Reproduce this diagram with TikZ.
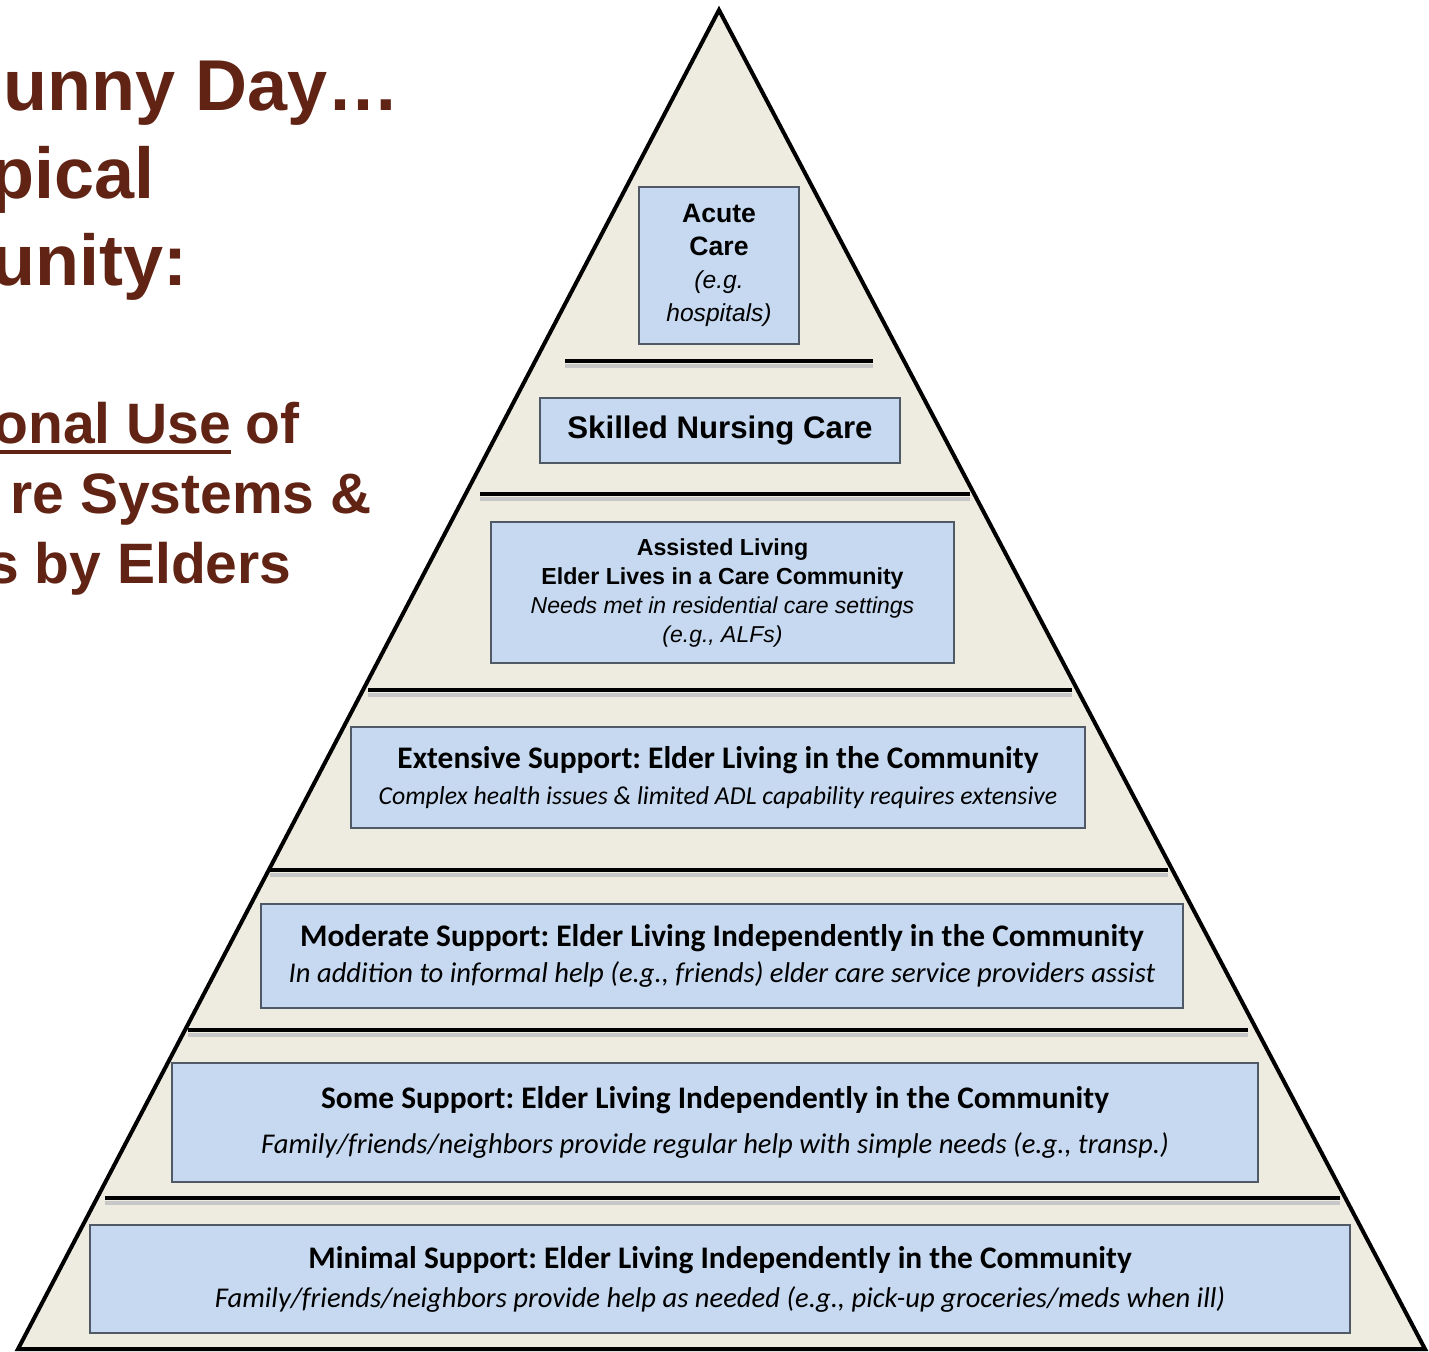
\documentclass[tikz,border=0pt]{standalone}
\usepackage{fontspec}
\setmainfont{Liberation Sans}
\newfontfamily\calibri{Carlito}
\usepackage{xcolor}
\definecolor{colorTitle}{RGB}{96,35,20}
\definecolor{colorPyramid}{RGB}{238,235,224}
\definecolor{colorTier}{RGB}{198,217,240}
\definecolor{colorTierEdge}{RGB}{80,90,102}
\usetikzlibrary{positioning}
\frenchspacing
\newcommand{\tierHead}{\bfseries\fontsize{15.7}{18}\selectfont}
\newcommand{\tierNote}{\itshape\fontsize{14.3}{18}\selectfont}
\tikzset{
  tier/.style={draw=colorTierEdge, line width=1pt, fill=colorTier, align=center, inner sep=0pt},
  divider/.style={line width=2.4pt, black, preaction={draw=black!22, line width=2.4pt, transform canvas={yshift=-2.5pt}}},
  titlebig/.style={anchor=base east, inner sep=0pt, text=colorTitle, font=\bfseries\fontsize{36}{40}\selectfont},
  titlesmall/.style={anchor=base east, inner sep=0pt, text=colorTitle, font=\bfseries\fontsize{28.5}{34}\selectfont},
}

\begin{document}
\begin{tikzpicture}[x=0.5pt, y=-0.5pt]
\useasboundingbox (0,0) rectangle (1429,1351);
\clip (0,0) rectangle (1429,1351);
% title, cut at the left edge
\node[titlebig] (t1) at (400,110) {unny Day…};
\node[titlebig] (t2) at (155,198) {pical};
\node[titlebig] (t3) at (188,285) {unity:};
\node[titlesmall] (t4b) at (300,443) {of};
\node[titlesmall, left=7pt of t4b.base west, anchor=base east] (t4a) {onal Use};
\node[titlesmall] (t5) at (372,513) {re Systems \&};
\node[titlesmall] (t6) at (292,583) {s by Elders};
\draw[colorTitle, line width=2pt] ([yshift=-4.5pt]t4a.base west) -- ([yshift=-4.5pt]t4a.base east);
% pyramid
\draw[line width=2pt, line join=miter, fill=colorPyramid] (719,10) -- (18,1349) -- (1425,1349) -- cycle;
\draw[divider] (565,361) -- (873,361);
\draw[divider] (480,494) -- (970,494);
\draw[divider] (368,690) -- (1072,690);
\draw[divider] (270,870) -- (1168,870);
\draw[divider] (188,1030) -- (1248,1030);
\draw[divider] (105,1198) -- (1340,1198);
% tiers
\node[tier, minimum width=80pt, minimum height=78.5pt, font=\fontsize{13.3}{16.5}\selectfont] (acute) at (719,265.5) {\bfseries Acute\\\bfseries Care\\\itshape\fontsize{12.3}{16.5}\selectfont (e.g.\\\itshape\fontsize{12.3}{16.5}\selectfont hospitals)};
\node[tier, minimum width=180pt, minimum height=32.5pt, font=\bfseries\fontsize{15.6}{18}\selectfont] (skilled) at (720,430.5) {Skilled Nursing Care};
\node[tier, minimum width=231.5pt, minimum height=70.5pt, font=\fontsize{11.6}{14.5}\selectfont] (assisted) at (722.5,592.5) {\bfseries Assisted Living\\\bfseries Elder Lives in a Care Community\\\itshape\fontsize{11.5}{14.5}\selectfont Needs met in residential care settings\\\itshape\fontsize{11.5}{14.5}\selectfont (e.g., ALFs)};
\node[tier, minimum width=367pt, minimum height=50.5pt, font=\calibri\fontsize{15.7}{18}\selectfont] (extensive) at (718,777.5) {\tierHead Extensive Support: Elder Living in the Community\\\itshape\fontsize{12.9}{18}\selectfont Complex health issues \& limited ADL capability requires extensive};
\node[tier, minimum width=461pt, minimum height=52pt, font=\calibri\fontsize{15.7}{18}\selectfont] (moderate) at (722,956) {\tierHead Moderate Support: Elder Living Independently in the Community\\\tierNote In addition to informal help (e.g., friends) elder care service providers assist};
\node[tier, minimum width=543pt, minimum height=59.5pt, font=\calibri\fontsize{15.7}{22.5}\selectfont] (some) at (715,1122.5) {\tierHead Some Support: Elder Living Independently in the Community\\\itshape\fontsize{14.3}{22.5}\selectfont Family/friends/neighbors provide regular help with simple needs (e.g., transp.)};
\node[tier, minimum width=630pt, minimum height=54pt, font=\calibri\fontsize{15.7}{19.5}\selectfont] (minimal) at (720,1279) {\tierHead Minimal Support: Elder Living Independently in the Community\\\itshape\fontsize{14.3}{19.5}\selectfont Family/friends/neighbors provide help as needed (e.g., pick-up groceries/meds when ill)};
\end{tikzpicture}
\end{document}
